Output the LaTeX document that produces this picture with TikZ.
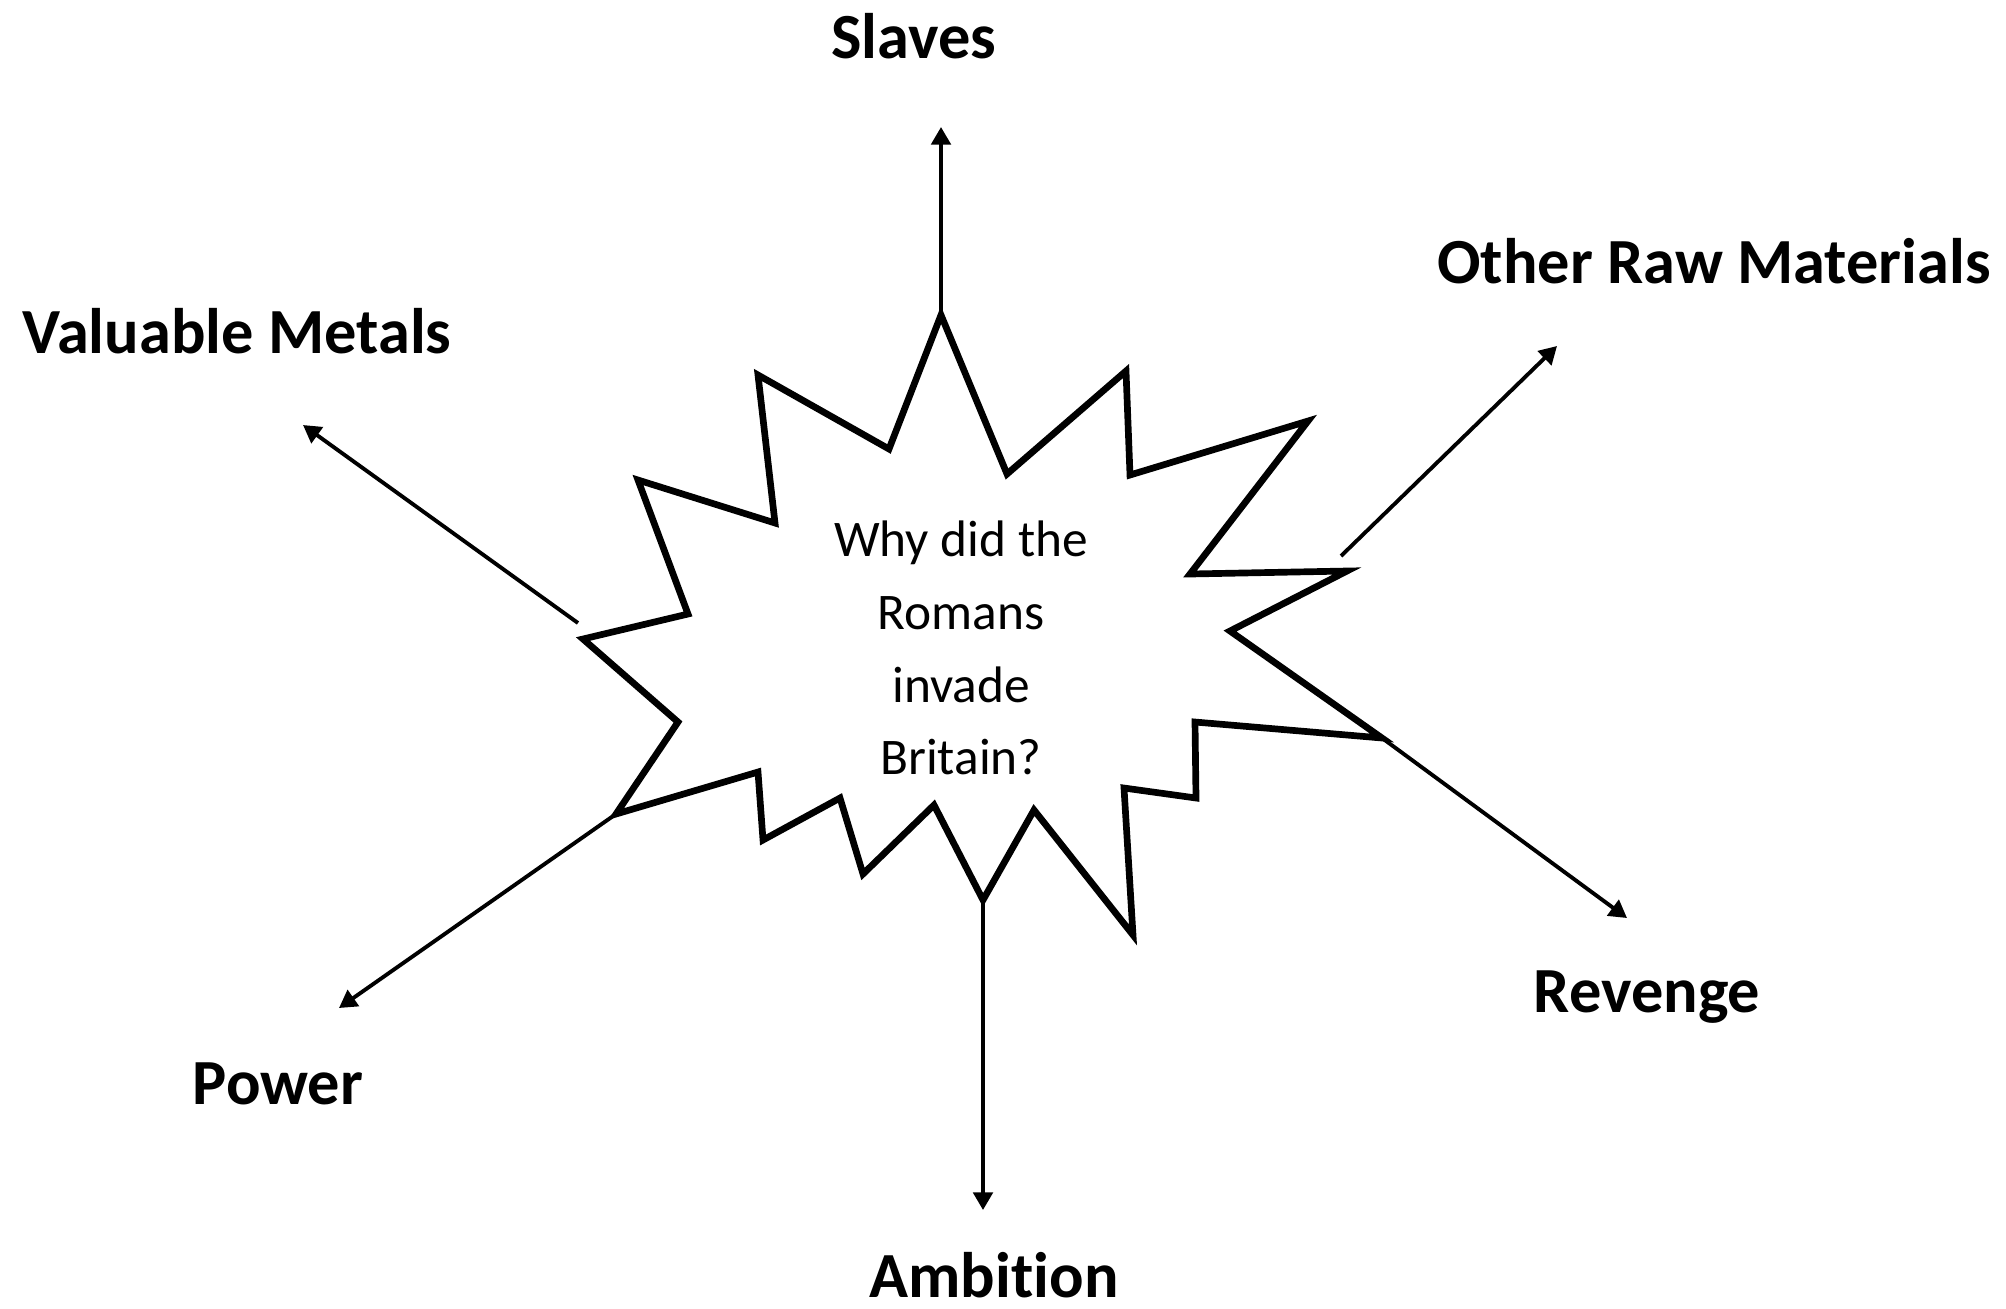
\documentclass[tikz,border=0pt]{standalone}
\usepackage{fontspec}
\setmainfont{Carlito}[RawFeature={-liga;-clig;-dlig;-calt}]
\usetikzlibrary{arrows.meta}

\begin{document}
\begin{tikzpicture}[x=0.01cm, y=-0.01cm,
    burst/.style={line width=1.9pt, line join=miter},
    reason/.style={line width=1.1pt, -{Triangle[length=5pt,width=5.5pt]}},
    cause/.style={anchor=base, inner sep=0pt, font=\bfseries\fontsize{18.3}{22}\selectfont}]

\useasboundingbox (0,0) rectangle (2006,1308);

% tips of the burst
\coordinate (tipN)  at (941,315);
\coordinate (tipS)  at (983,900);
\coordinate (tipSE) at (1382,738);
\coordinate (tipSW) at (616,814);
\coordinate (nwstart) at (578,623);
\coordinate (nestart) at (1341,556);

\draw [burst] (tipN) -- (1007,474) -- (1126,371) -- (1130,475) -- (1308,421)
    -- (1190,574) -- (1347,571) -- (1230,631) -- (tipSE) -- (1195,722)
    -- (1196,798) -- (1124,788) -- (1133,935) -- (1034,810) -- (tipS)
    -- (934,805) -- (863,874) -- (840,798) -- (763,840) -- (758,772)
    -- (tipSW) -- (678,722) -- (583,639) -- (688,614) -- (638,480)
    -- (775,523) -- (758,375) -- (889,449) -- cycle;

\node (question) at (961,648) [align=center,
    font=\fontsize{14.6}{20.7}\selectfont] {Why did the\\Romans\\invade\\Britain?};

\node (slaves)   [cause] at (914,58)   {Slaves};
\node (metals)   [cause] at (237,353)  {Valuable Metals};
\node (raw)      [cause] at (1714,283) {Other Raw Materials};
\node (power)    [cause] at (278,1104) {Power};
\node (ambition) [cause] at (994,1297) {Ambition};
\node (revenge)  [cause] at (1647,1012) {Revenge};

% arrow heads stop short of the labels
\coordinate (slavesend)   at (941,127);
\coordinate (metalsend)   at (303,425);
\coordinate (rawend)      at (1557,346);
\coordinate (powerend)    at (339,1008);
\coordinate (ambitionend) at (983,1210);
\coordinate (revengeend)  at (1627,918);

\draw [reason] ([yshift=-2pt]tipN) -- (slavesend);
\draw [reason] (nwstart) -- (metalsend);
\draw [reason] (nestart) -- (rawend);
\draw [reason] (tipSW) -- (powerend);
\draw [reason] (tipS) -- (ambitionend);
\draw [reason] (tipSE) -- (revengeend);

\end{tikzpicture}
\end{document}
